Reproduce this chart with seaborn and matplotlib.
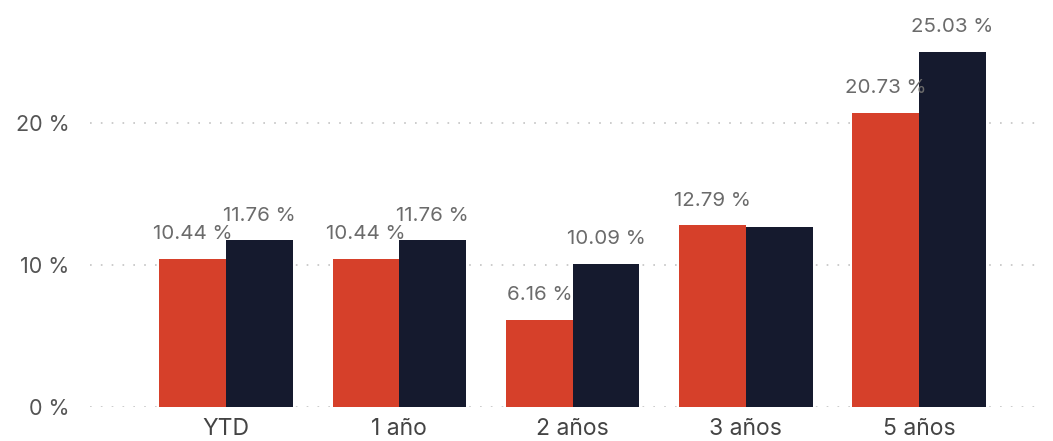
import numpy as np
import pandas as pd
import matplotlib
matplotlib.use("Agg")
import matplotlib.pyplot as plt
import seaborn as sns

# -------------------------
# DATOS
# -------------------------
periodos = ["YTD", "1 año", "2 años", "3 años", "5 años"]
serie_a = [10.44, 10.44, 6.16, 12.79, 20.73]
serie_b = [11.76, 11.76, 10.09, 12.65, 25.03]
mostrar_b = [True, True, True, False, True]  # etiqueta oculta en 3 años
yticks = [0, 10, 20]

COLOR_A = "#d6402a"
COLOR_B = "#151a2e"

df = pd.DataFrame({
    "periodo": periodos * 2,
    "valor": serie_a + serie_b,
    "serie": ["A"] * len(periodos) + ["B"] * len(periodos),
})

sns.set_theme(style="white")
plt.rcParams["font.family"] = ["Inter", "DejaVu Sans"]

fig = plt.figure(figsize=(10.53, 4.41), dpi=100)
ax = fig.add_axes([90 / 1053, 34 / 441, 950 / 1053, 407 / 441])

sns.barplot(data=df, x="periodo", y="valor", hue="serie", order=periodos,
            palette=[COLOR_A, COLOR_B], width=0.77, gap=0, saturation=1,
            linewidth=0, legend=False, ax=ax)

# etiquetas sobre las barras
for cont, mask in zip(ax.containers, [[True] * 5, mostrar_b]):
    for bar, show in zip(cont, mask):
        if not show:
            continue
        h = bar.get_height()
        ax.annotate(f"{h:.2f} %", (bar.get_x() + bar.get_width() / 2, h),
                    xytext=(0, 11), textcoords="offset points",
                    ha="center", va="bottom", fontsize=14.8, color="#6b6b6b")

ax.set_xlim(-0.785, 4.697)
ax.set_ylim(0, 28.66)
ax.set_yticks(yticks)
ax.set_yticklabels([f"{t} %" for t in yticks])
ax.yaxis.grid(True, linestyle=(0, (1, 5.5)), color="#c4c4c4", linewidth=1.2)
ax.set_axisbelow(True)
ax.tick_params(axis="y", length=0, labelsize=15.5, labelcolor="#555555", pad=15)
ax.tick_params(axis="x", length=0, labelsize=16.5, labelcolor="#444444", pad=8)
ax.set_xlabel("")
ax.set_ylabel("")
for s in ax.spines.values():
    s.set_visible(False)

fig.savefig("out.png", dpi=100)
plt.close(fig)
